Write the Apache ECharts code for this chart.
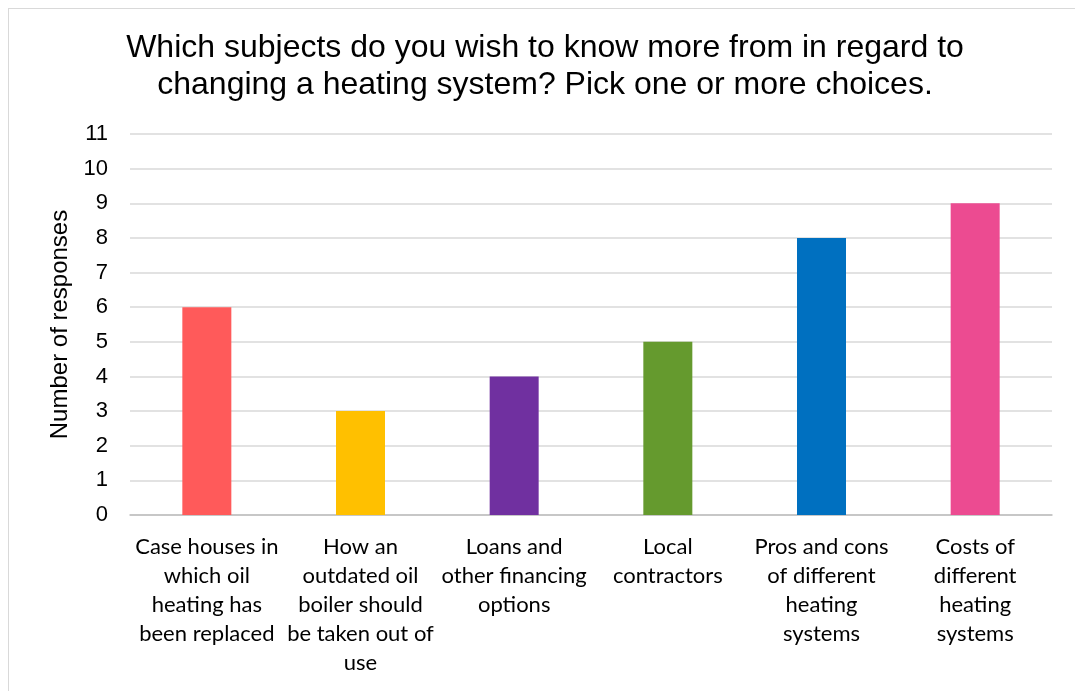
<!DOCTYPE html>
<html>
<head>
<meta charset="utf-8">
<script src="https://cdn.jsdelivr.net/npm/echarts@6/dist/echarts.min.js"></script>
<style>
  html, body { margin: 0; padding: 0; background: #fff; }
  #frame { position: absolute; left: 8px; top: 8px; right: 0; bottom: 0;
           border-top: 1.5px solid #d9d9d9; border-left: 1.5px solid #d9d9d9; }
  #chart { position: absolute; left: 0; top: 0; width: 1075px; height: 691px; }
</style>
</head>
<body>
<div id="frame"></div>
<div id="chart"></div>
<script>
// Survey answers: topics people want more information on
const titleLines = [
  'Which subjects do you wish to know more from in regard to',
  'changing a heating system? Pick one or more choices.'
];
const categories = [
  'Case houses in\nwhich oil\nheating has\nbeen replaced',
  'How an\noutdated oil\nboiler should\nbe taken out of\nuse',
  'Loans and\nother financing\noptions',
  'Local\ncontractors',
  'Pros and cons\nof different\nheating\nsystems',
  'Costs of\ndifferent\nheating\nsystems'
];
const responses = [6, 3, 4, 5, 8, 9];
const barColors = ['#FF5A5A', '#FFC000', '#7030A0', '#659A2E', '#0070C0', '#EC4B91'];
const yTicks = { min: 0, max: 11, interval: 1 };
const yAxisName = 'Number of responses';

const chart = echarts.init(document.getElementById('chart'), null, { renderer: 'canvas' });

chart.setOption({
  animation: false,
  backgroundColor: 'transparent',
  graphic: [{
    type: 'text',
    x: 545,
    y: 30,
    style: {
      text: titleLines.join('\n'),
      font: '32px "Liberation Sans", Arial, sans-serif',
      fill: '#000',
      align: 'center',
      lineHeight: 37
    }
  }],
  grid: { left: 130, right: 23, top: 134, bottom: 176 },
  xAxis: {
    type: 'category',
    data: categories,
    axisLine: { lineStyle: { color: '#bfbfbf', width: 1.5 } },
    axisTick: { show: false },
    axisLabel: {
      interval: 0,
      margin: 17,
      color: '#000',
      fontFamily: 'Lato, "Open Sans", sans-serif',
      fontSize: 22,
      lineHeight: 29,
      align: 'center'
    }
  },
  yAxis: {
    type: 'value',
    min: yTicks.min,
    max: yTicks.max,
    interval: yTicks.interval,
    name: yAxisName,
    nameLocation: 'middle',
    nameGap: 58,
    nameTextStyle: { color: '#000', fontFamily: '"Liberation Sans", Arial, sans-serif', fontSize: 24 },
    axisLine: { show: false },
    axisTick: { show: false },
    axisLabel: { color: '#000', fontFamily: '"Liberation Sans", Arial, sans-serif', fontSize: 22, margin: 22 },
    splitLine: { lineStyle: { color: '#d9d9d9', width: 1.5 } }
  },
  series: [{
    type: 'bar',
    barWidth: 49,
    data: responses.map((v, i) => ({ value: v, itemStyle: { color: barColors[i] } }))
  }]
});
</script>
</body>
</html>
